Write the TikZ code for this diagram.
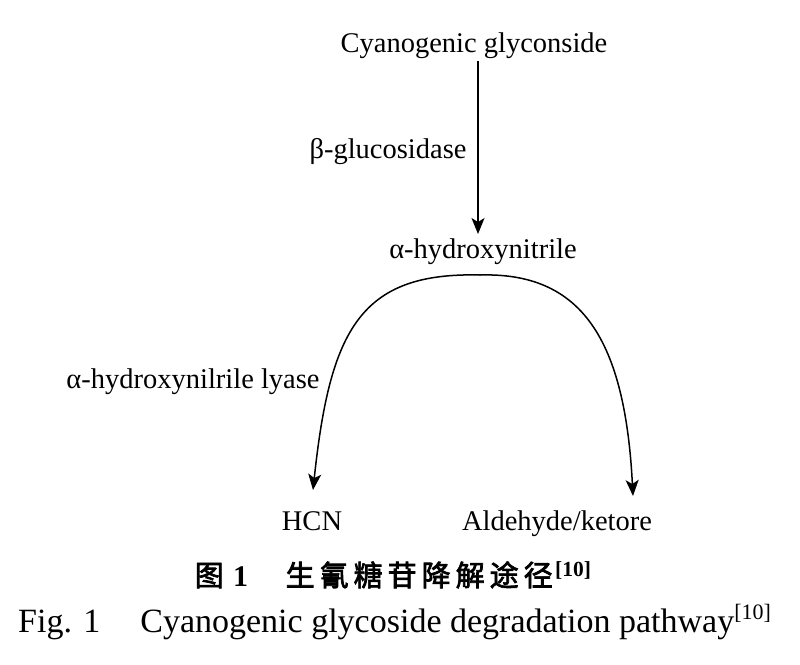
\documentclass[tikz,border=0pt]{standalone}
\usepackage{fontspec}
\setmainfont{Liberation Serif}
\newfontfamily\cjk[FakeBold=2.5]{Noto Sans CJK SC}
\usetikzlibrary{arrows.meta}
\newcommand{\cbox}[1]{\makebox[34pt]{#1}}
\newcommand{\wbox}[2]{\makebox[#1pt][l]{#2}}
\begin{document}
\begin{tikzpicture}[x=1pt,y=-1pt,
  lbl/.style={font=\fontsize{28.5}{30}\selectfont, inner sep=0pt, anchor=base},
  arr/.style={-{Stealth[length=16pt,width=13pt,inset=4pt]}, line width=1.5pt}]
\useasboundingbox (0,0) rectangle (800,664);
\node[lbl] (cg) at (474,52) {Cyanogenic glyconside};
\node[lbl] (bg) at (388,158) {β-glucosidase};
\node[lbl] (ah) at (483,258) {α-hydroxynitrile};
\node[lbl] (lyase) at (193,388) {α-hydroxynilrile lyase};
\node[lbl] (hcn) at (312,530) {HCN};
\node[lbl] (ald) at (557,530) {Aldehyde/ketore};
\coordinate (top) at (480,275);
\coordinate (ltip) at (313,490);
\coordinate (rtip) at (633,496);
\draw[arr] (cg.south -| 478,0) ++(0,3) -- ([yshift=4pt]ah.north -| 478,0);
\draw[arr] (top) .. controls (360,272) and (330,330) .. (ltip);
\draw[arr] (top) .. controls (582,272) and (625,340) .. (rtip);
\node[inner sep=0pt, anchor=base west] (cap1) at (192,586) {\fontsize{29}{31}\selectfont
  \wbox{41}{\cjk\cbox{图}}\wbox{50}{\bfseries\fontsize{30}{31}\selectfont 1}{\cjk\cbox{生}\cbox{氰}\cbox{糖}\cbox{苷}\cbox{降}\cbox{解}\cbox{途}\cbox{径}}\hspace{0pt}\raisebox{10pt}{\bfseries\fontsize{21.5}{22}\selectfont [10]}};
\node[inner sep=0pt, anchor=base west] (cap2) at (18,632) {\fontsize{34}{36}\selectfont
  Fig. 1\hspace{40pt}Cyanogenic glycoside degradation pathway\raisebox{13pt}{\fontsize{22}{23}\selectfont [10]}};
\end{tikzpicture}
\end{document}
